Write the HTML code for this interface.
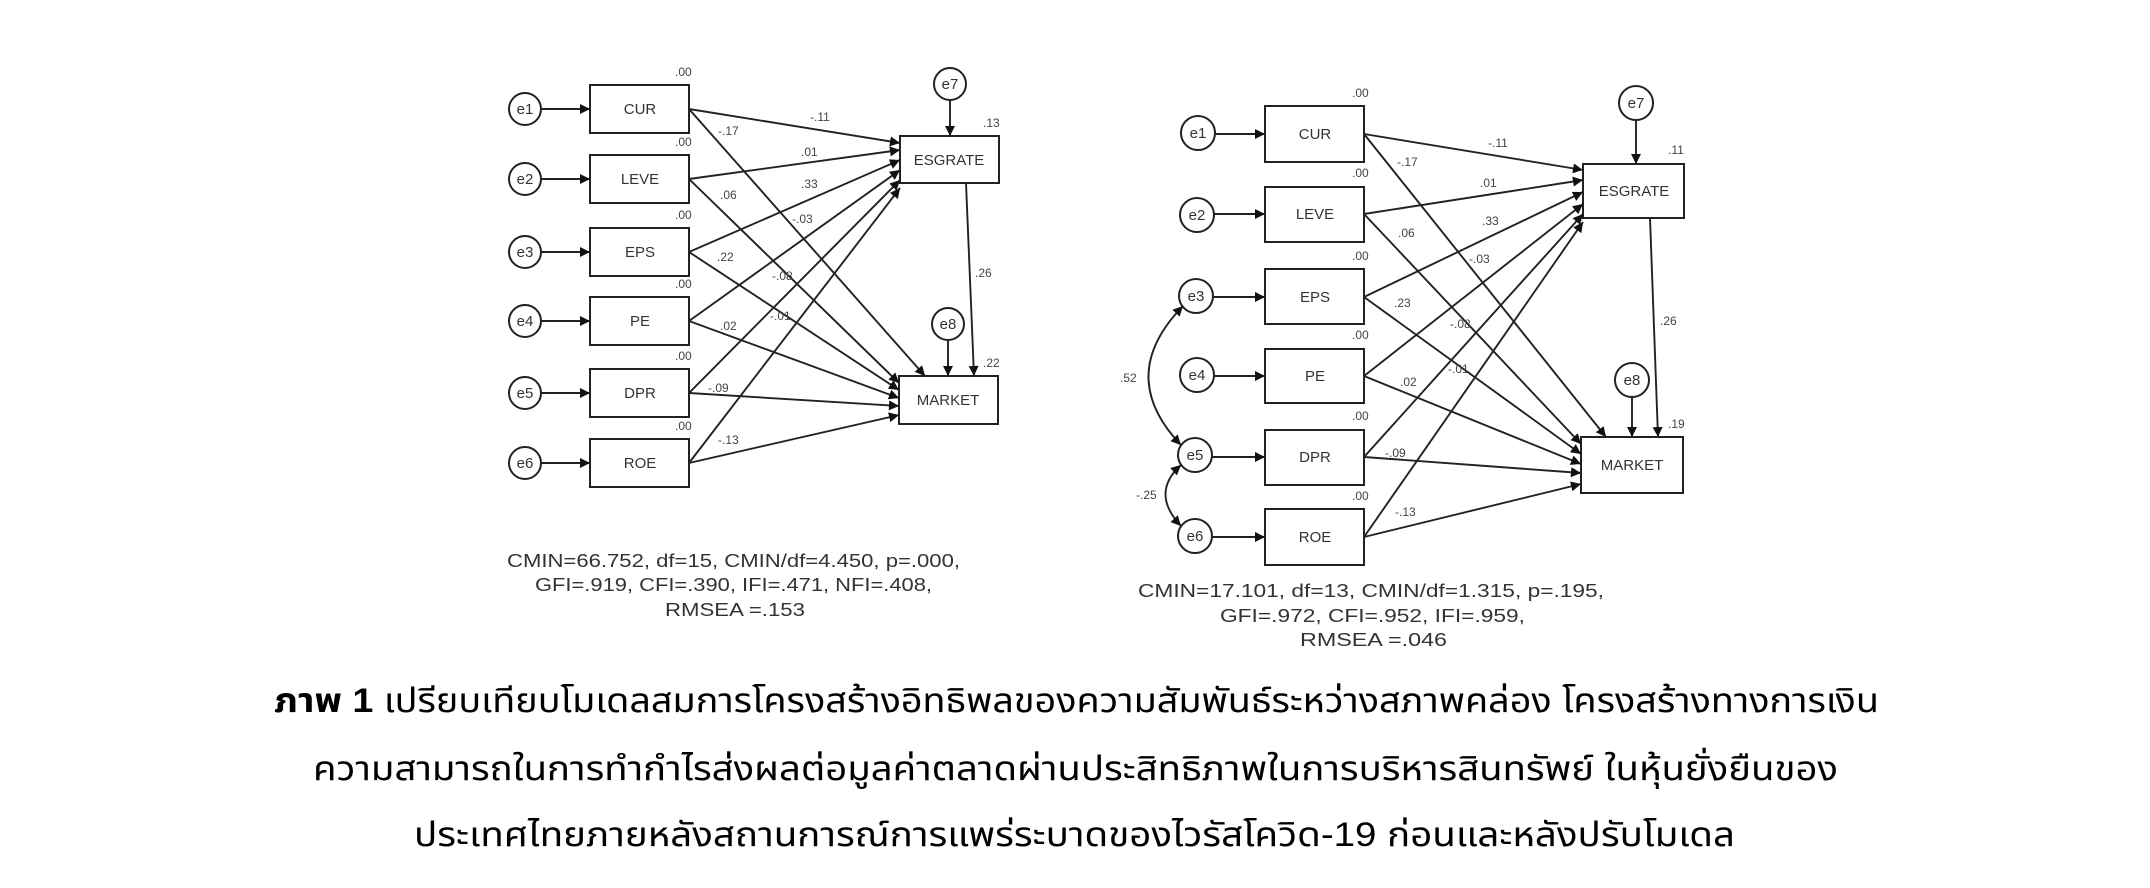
<!DOCTYPE html>
<html><head><meta charset="utf-8">
<style>
html,body{margin:0;padding:0;background:#fff;}
svg{display:block;}
text{font-family:"Liberation Sans",sans-serif;fill:#333;}
.n{font-size:15px;fill:#333;}
.l{font-size:12px;fill:#444;}
.th{font-family:"Liberation Sans","Noto Sans Thai","Loma","Garuda","Norasi",sans-serif;font-size:34px;fill:#000;}
</style></head><body>
<svg width="2150" height="888" viewBox="0 0 2150 888" xmlns="http://www.w3.org/2000/svg">
<defs>
<marker id="a" viewBox="0 0 10 10" refX="10" refY="5" markerWidth="16" markerHeight="10" markerUnits="userSpaceOnUse" orient="auto-start-reverse">
<path d="M0,0 L10,5 L0,10 z" fill="#111"/></marker>
</defs>
<g stroke="#222" stroke-width="2" fill="none">
<rect x="590" y="85" width="99" height="48"/>
<rect x="590" y="155" width="99" height="48"/>
<rect x="590" y="228" width="99" height="48"/>
<rect x="590" y="297" width="99" height="48"/>
<rect x="590" y="369" width="99" height="48"/>
<rect x="590" y="439" width="99" height="48"/>
<rect x="900" y="136" width="99" height="47"/>
<rect x="899" y="376" width="99" height="48"/>
<circle cx="525" cy="109" r="16"/><circle cx="525" cy="179" r="16"/><circle cx="525" cy="252" r="16"/>
<circle cx="525" cy="321" r="16"/><circle cx="525" cy="393" r="16"/><circle cx="525" cy="463" r="16"/>
<circle cx="950" cy="84" r="16"/><circle cx="948" cy="324" r="16"/>
</g>
<g stroke="#222" stroke-width="1.9" fill="none" marker-end="url(#a)">
<line x1="541" y1="109" x2="590" y2="109"/><line x1="541" y1="179" x2="590" y2="179"/>
<line x1="541" y1="252" x2="590" y2="252"/><line x1="541" y1="321" x2="590" y2="321"/>
<line x1="541" y1="393" x2="590" y2="393"/><line x1="541" y1="463" x2="590" y2="463"/>
<line x1="950" y1="100" x2="950" y2="136"/><line x1="948" y1="340" x2="948" y2="376"/>
<line x1="966" y1="183" x2="974" y2="376"/>
<line x1="689" y1="109" x2="900" y2="143"/>
<line x1="689" y1="109" x2="925" y2="376"/>
<line x1="689" y1="179" x2="900" y2="150"/>
<line x1="689" y1="179" x2="899" y2="383"/>
<line x1="689" y1="252" x2="900" y2="160"/>
<line x1="689" y1="252" x2="899" y2="390"/>
<line x1="689" y1="321" x2="900" y2="170"/>
<line x1="689" y1="321" x2="899" y2="398"/>
<line x1="689" y1="393" x2="900" y2="180"/>
<line x1="689" y1="393" x2="899" y2="406"/>
<line x1="689" y1="463" x2="900" y2="188"/>
<line x1="689" y1="463" x2="899" y2="415"/>
</g>
<g class="n" text-anchor="middle">
<text x="525" y="114" class="n">e1</text><text x="525" y="184" class="n">e2</text><text x="525" y="257" class="n">e3</text>
<text x="525" y="326" class="n">e4</text><text x="525" y="398" class="n">e5</text><text x="525" y="468" class="n">e6</text>
<text x="950" y="89" class="n">e7</text><text x="948" y="329" class="n">e8</text>
<text x="640" y="114" class="n">CUR</text><text x="640" y="184" class="n">LEVE</text><text x="640" y="257" class="n">EPS</text>
<text x="640" y="326" class="n">PE</text><text x="640" y="398" class="n">DPR</text><text x="640" y="468" class="n">ROE</text>
<text x="949" y="165" class="n">ESGRATE</text><text x="948" y="405" class="n">MARKET</text>
</g>
<g class="l">
<text x="675" y="76" class="l">.00</text><text x="675" y="146" class="l">.00</text><text x="675" y="219" class="l">.00</text>
<text x="675" y="288" class="l">.00</text><text x="675" y="360" class="l">.00</text><text x="675" y="430" class="l">.00</text>
<text x="983" y="127" class="l">.13</text><text x="983" y="367" class="l">.22</text><text x="975" y="277" class="l">.26</text>
<text x="810" y="121" class="l">-.11</text><text x="718" y="135" class="l">-.17</text>
<text x="801" y="156" class="l">.01</text><text x="720" y="199" class="l">.06</text>
<text x="801" y="188" class="l">.33</text><text x="792" y="223" class="l">-.03</text>
<text x="717" y="261" class="l">.22</text><text x="772" y="280" class="l">-.08</text>
<text x="720" y="330" class="l">.02</text><text x="770" y="320" class="l">-.01</text>
<text x="708" y="392" class="l">-.09</text><text x="718" y="444" class="l">-.13</text>
</g>

<!-- RIGHT diagram -->
<g stroke="#222" stroke-width="2" fill="none">
<rect x="1265" y="106" width="99" height="56"/>
<rect x="1265" y="187" width="99" height="55"/>
<rect x="1265" y="269" width="99" height="55"/>
<rect x="1265" y="349" width="99" height="54"/>
<rect x="1265" y="430" width="99" height="55"/>
<rect x="1265" y="509" width="99" height="56"/>
<rect x="1583" y="164" width="101" height="54"/>
<rect x="1581" y="437" width="102" height="56"/>
<circle cx="1198" cy="133" r="17"/><circle cx="1197" cy="215" r="17"/><circle cx="1196" cy="296" r="17"/>
<circle cx="1197" cy="375" r="17"/><circle cx="1195" cy="455" r="17"/><circle cx="1195" cy="536" r="17"/>
<circle cx="1636" cy="103" r="17"/><circle cx="1632" cy="380" r="17"/>
</g>
<g stroke="#222" stroke-width="1.9" fill="none" marker-end="url(#a)" marker-start="url(#a)">
<path d="M1183,306 Q1115,376 1181,445"/>
<path d="M1181,465 Q1150,493 1181,526"/>
</g>
<g stroke="#222" stroke-width="1.9" fill="none" marker-end="url(#a)">
<line x1="1215" y1="134" x2="1265" y2="134"/><line x1="1214" y1="214" x2="1265" y2="214"/>
<line x1="1213" y1="297" x2="1265" y2="297"/><line x1="1214" y1="376" x2="1265" y2="376"/>
<line x1="1212" y1="457" x2="1265" y2="457"/><line x1="1212" y1="537" x2="1265" y2="537"/>
<line x1="1636" y1="120" x2="1636" y2="164"/><line x1="1632" y1="397" x2="1632" y2="437"/>
<line x1="1650" y1="218" x2="1658" y2="437"/>
<line x1="1364" y1="134" x2="1583" y2="170"/>
<line x1="1364" y1="134" x2="1606" y2="437"/>
<line x1="1364" y1="214" x2="1583" y2="180"/>
<line x1="1364" y1="214" x2="1581" y2="444"/>
<line x1="1364" y1="297" x2="1583" y2="192"/>
<line x1="1364" y1="297" x2="1581" y2="454"/>
<line x1="1364" y1="376" x2="1583" y2="204"/>
<line x1="1364" y1="376" x2="1581" y2="464"/>
<line x1="1364" y1="457" x2="1583" y2="214"/>
<line x1="1364" y1="457" x2="1581" y2="473"/>
<line x1="1364" y1="537" x2="1583" y2="222"/>
<line x1="1364" y1="537" x2="1581" y2="484"/>
</g>
<g text-anchor="middle">
<text x="1198" y="138" class="n">e1</text><text x="1197" y="220" class="n">e2</text><text x="1196" y="301" class="n">e3</text>
<text x="1197" y="380" class="n">e4</text><text x="1195" y="460" class="n">e5</text><text x="1195" y="541" class="n">e6</text>
<text x="1636" y="108" class="n">e7</text><text x="1632" y="385" class="n">e8</text>
<text x="1315" y="139" class="n">CUR</text><text x="1315" y="219" class="n">LEVE</text><text x="1315" y="302" class="n">EPS</text>
<text x="1315" y="381" class="n">PE</text><text x="1315" y="462" class="n">DPR</text><text x="1315" y="542" class="n">ROE</text>
<text x="1634" y="196" class="n">ESGRATE</text><text x="1632" y="470" class="n">MARKET</text>
</g>
<g>
<text x="1352" y="97" class="l">.00</text><text x="1352" y="177" class="l">.00</text><text x="1352" y="260" class="l">.00</text>
<text x="1352" y="339" class="l">.00</text><text x="1352" y="420" class="l">.00</text><text x="1352" y="500" class="l">.00</text>
<text x="1668" y="154" class="l">.11</text><text x="1668" y="428" class="l">.19</text><text x="1660" y="325" class="l">.26</text>
<text x="1120" y="382" class="l">.52</text><text x="1136" y="499" class="l">-.25</text>
<text x="1488" y="147" class="l">-.11</text><text x="1397" y="166" class="l">-.17</text>
<text x="1480" y="187" class="l">.01</text><text x="1398" y="237" class="l">.06</text>
<text x="1482" y="225" class="l">.33</text><text x="1469" y="263" class="l">-.03</text>
<text x="1394" y="307" class="l">.23</text><text x="1450" y="328" class="l">-.08</text>
<text x="1400" y="386" class="l">.02</text><text x="1448" y="373" class="l">-.01</text>
<text x="1385" y="457" class="l">-.09</text><text x="1395" y="516" class="l">-.13</text>
</g>

<!-- fit stats -->
<g style="font-size:18px;fill:#222">
<text x="507" y="567" textLength="453" lengthAdjust="spacingAndGlyphs" style="font-size:18px">CMIN=66.752, df=15, CMIN/df=4.450, p=.000,</text>
<text x="535" y="591" textLength="397" lengthAdjust="spacingAndGlyphs" style="font-size:18px">GFI=.919, CFI=.390, IFI=.471, NFI=.408,</text>
<text x="665" y="616" textLength="140" lengthAdjust="spacingAndGlyphs" style="font-size:18px">RMSEA =.153</text>
<text x="1138" y="597" textLength="466" lengthAdjust="spacingAndGlyphs" style="font-size:18px">CMIN=17.101, df=13, CMIN/df=1.315, p=.195,</text>
<text x="1220" y="622" textLength="305" lengthAdjust="spacingAndGlyphs" style="font-size:18px">GFI=.972, CFI=.952, IFI=.959,</text>
<text x="1300" y="646" textLength="147" lengthAdjust="spacingAndGlyphs" style="font-size:18px">RMSEA =.046</text>
</g>

<!-- caption -->
<text class="th" x="274" y="712" textLength="1605" lengthAdjust="spacingAndGlyphs"><tspan font-weight="bold">ภาพ 1</tspan> เปรียบเทียบโมเดลสมการโครงสร้างอิทธิพลของความสัมพันธ์ระหว่างสภาพคล่อง โครงสร้างทางการเงิน</text>
<text class="th" x="313" y="780" textLength="1525" lengthAdjust="spacingAndGlyphs">ความสามารถในการทำกำไรส่งผลต่อมูลค่าตลาดผ่านประสิทธิภาพในการบริหารสินทรัพย์ ในหุ้นยั่งยืนของ</text>
<text class="th" x="414" y="846" textLength="1321" lengthAdjust="spacingAndGlyphs">ประเทศไทยภายหลังสถานการณ์การแพร่ระบาดของไวรัสโควิด-19 ก่อนและหลังปรับโมเดล</text>
</svg>
</body></html>
